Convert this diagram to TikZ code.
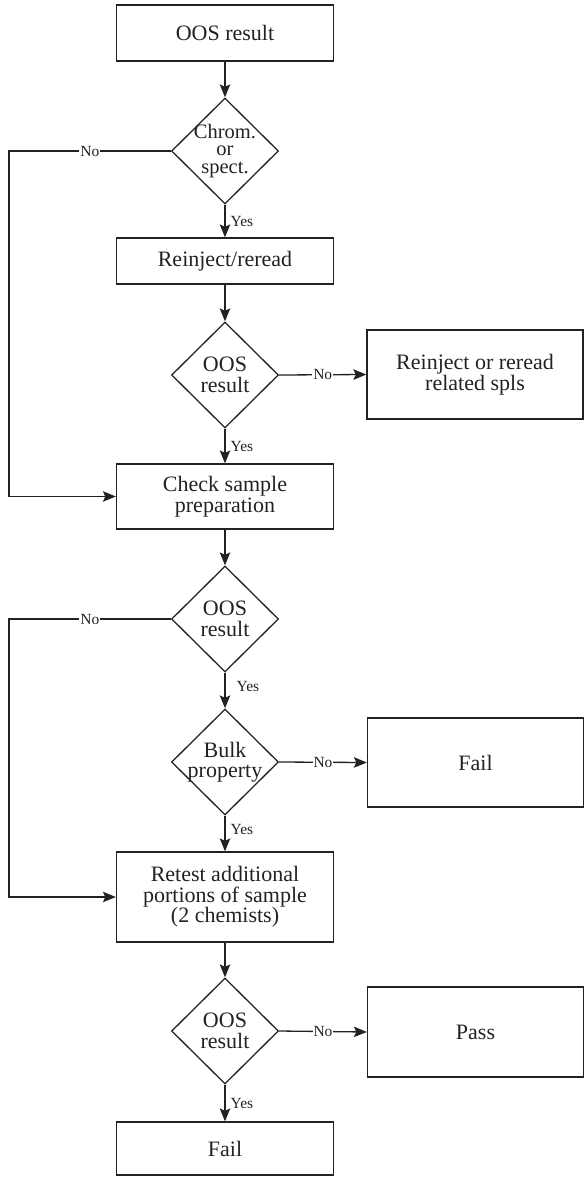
\documentclass[tikz,border=0pt]{standalone}
\usepackage{fontspec}
\setmainfont{Liberation Serif}
\usetikzlibrary{shapes.geometric,arrows.meta}
\definecolor{ink}{rgb}{0.14,0.13,0.13}
\begin{document}
\begin{tikzpicture}[x=1pt,y=-1pt,
  every node/.style={text=ink},
  box/.style={draw=ink, line width=1.3pt, rectangle, minimum width=217pt,
    inner sep=0pt, align=center, font=\fontsize{22}{20.5}\selectfont},
  dia/.style={draw=ink, line width=1.3pt, diamond, minimum width=107pt,
    minimum height=106pt, inner sep=-14pt, align=center,
    font=\fontsize{22}{20.5}\selectfont},
  flow/.style={draw=ink, line width=1.3pt,
    -{Stealth[length=13pt,width=10.5pt,inset=2.5pt]}},
  tag/.style={font=\fontsize{15.5}{16}\selectfont, inner sep=1pt},
  yestag/.style={tag, anchor=west, xshift=4pt},
  notag/.style={tag, fill=white}
]
\useasboundingbox (0,0) rectangle (585,1178);

% left return rail
\coordinate (lx) at (9,0);

% main column
\node[box, minimum height=56pt] (b1) at (225,33) {OOS result};
\node[dia, font=\fontsize{20.5}{17.5}\selectfont] (d1) at (225,151) {Chrom.\\or\\spect.};
\node[box, minimum height=46pt] (b2) at (225,261) {Reinject/reread};
\node[dia] (d2) at (225,375) {OOS\\result};
\node[box, minimum height=65pt] (b4) at (225,496.5) {Check sample\\preparation};
\node[dia] (d3) at (225,619) {OOS\\result};
\node[dia] (d4) at (225,762) {Bulk\\property};
\node[box, minimum height=90pt] (b6) at (225,897) {Retest additional\\portions of sample\\(2 chemists)};
\node[dia] (d5) at (225,1031) {OOS\\result};
\node[box, minimum height=53pt] (b8) at (225,1148.5) {Fail};

% side outcomes
\node[box, minimum width=216pt, minimum height=89pt] (b3) at (475,374.5) {Reinject or reread\\related spls};
\node[box, minimum width=216pt, minimum height=89pt] (b5) at (475.5,762.5) {Fail};
\node[box, minimum width=216pt, minimum height=90pt] (b7) at (475.5,1032) {Pass};

% main flow
\draw[flow] (b1) -- (d1);
\draw[flow] (d1.south) -- node[yestag, pos=0.5] {Yes} (b2.north);
\draw[flow] (b2) -- (d2);
\draw[flow] (d2.south) -- node[yestag, pos=0.5] {Yes} (b4.north);
\draw[flow] (b4) -- (d3);
\draw[flow] (d3.south) -- node[yestag, pos=0.4, xshift=6pt] {Yes} (d4.north);
\draw[flow] (d4.south) -- node[yestag, pos=0.4] {Yes} (b6.north);
\draw[flow] (b6) -- (d5);
\draw[flow] (d5.south) -- node[yestag, pos=0.5] {Yes} (b8.north);

% "No" branches to the right
\draw[flow] (d2.east) -- node[notag] {No} (b3.west);
\draw[flow] (d4.east) -- node[notag] {No} (b5.west);
\draw[flow] (d5.east) -- node[notag] {No} (b7.west);

% "No" branches looping back on the left
\draw[flow] (d1.west) -- node[notag] {No} (d1.west -| lx) |- (b4.west);
\draw[flow] (d3.west) -- node[notag] {No} (d3.west -| lx) |- (b6.west);
\end{tikzpicture}
\end{document}
